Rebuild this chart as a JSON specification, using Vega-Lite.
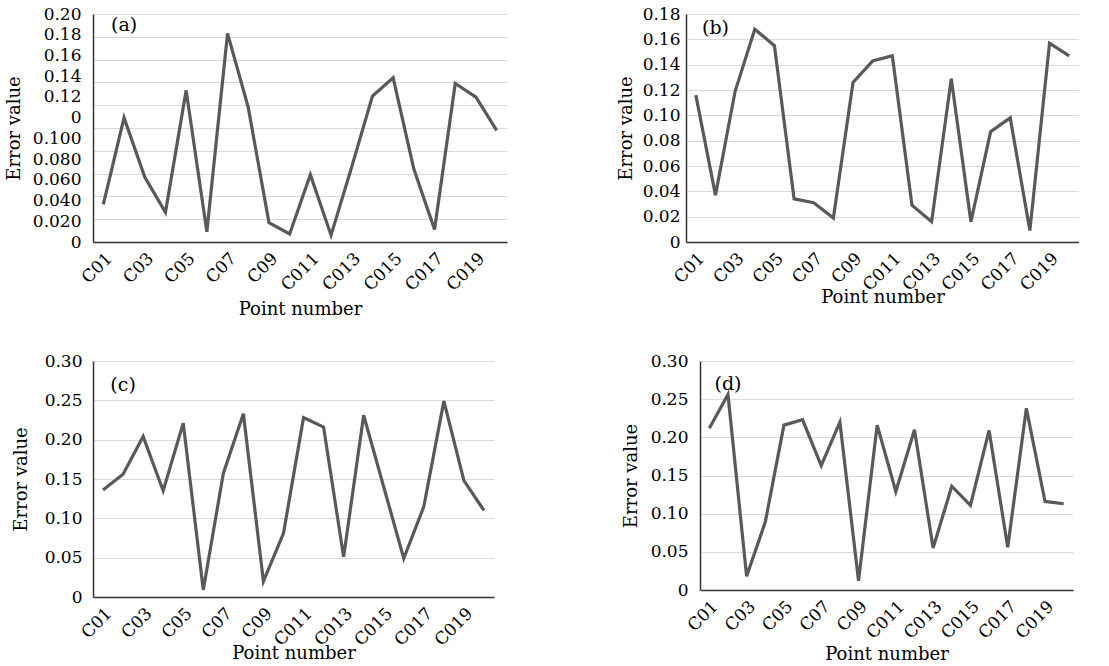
{
  "$schema": "https://vega.github.io/schema/vega-lite/v6.json",
  "background": "white",
  "padding": {"left": 5, "top": 5, "right": 0, "bottom": 0},
  "config": {
    "view": {"stroke": null},
    "axis": {
      "domainColor": "#333333", "domainWidth": 1.5, "ticks": false, "tickSize": 0,
      "labelFont": "DejaVu Serif", "labelFontSize": 17, "labelColor": "#000000",
      "titleFont": "DejaVu Serif", "titleFontSize": 18, "titleFontWeight": "normal", "titleColor": "#000000",
      "gridColor": "#d9d9d9", "gridWidth": 1
    },
    "axisX": {"grid": false, "labelAngle": -45, "labelPadding": 8}
  },
  "datasets": {
    "a": [
      {"point": "C01", "value": 0.033}, {"point": "C02", "value": 0.109}, {"point": "C03", "value": 0.057}, {"point": "C04", "value": 0.026},
      {"point": "C05", "value": 0.133}, {"point": "C06", "value": 0.009}, {"point": "C07", "value": 0.183}, {"point": "C08", "value": 0.118},
      {"point": "C09", "value": 0.017}, {"point": "C010", "value": 0.007}, {"point": "C011", "value": 0.059}, {"point": "C012", "value": 0.006},
      {"point": "C013", "value": 0.066}, {"point": "C014", "value": 0.128}, {"point": "C015", "value": 0.144}, {"point": "C016", "value": 0.064},
      {"point": "C017", "value": 0.011}, {"point": "C018", "value": 0.139}, {"point": "C019", "value": 0.127}, {"point": "C020", "value": 0.098}
    ],
    "b": [
      {"point": "C01", "value": 0.116}, {"point": "C02", "value": 0.037}, {"point": "C03", "value": 0.119}, {"point": "C04", "value": 0.168},
      {"point": "C05", "value": 0.155}, {"point": "C06", "value": 0.034}, {"point": "C07", "value": 0.031}, {"point": "C08", "value": 0.019},
      {"point": "C09", "value": 0.126}, {"point": "C010", "value": 0.143}, {"point": "C011", "value": 0.147}, {"point": "C012", "value": 0.029},
      {"point": "C013", "value": 0.016}, {"point": "C014", "value": 0.129}, {"point": "C015", "value": 0.016}, {"point": "C016", "value": 0.087},
      {"point": "C017", "value": 0.098}, {"point": "C018", "value": 0.009}, {"point": "C019", "value": 0.157}, {"point": "C020", "value": 0.147}
    ],
    "c": [
      {"point": "C01", "value": 0.136}, {"point": "C02", "value": 0.156}, {"point": "C03", "value": 0.204}, {"point": "C04", "value": 0.135},
      {"point": "C05", "value": 0.221}, {"point": "C06", "value": 0.009}, {"point": "C07", "value": 0.157}, {"point": "C08", "value": 0.233},
      {"point": "C09", "value": 0.020}, {"point": "C010", "value": 0.081}, {"point": "C011", "value": 0.228}, {"point": "C012", "value": 0.216},
      {"point": "C013", "value": 0.051}, {"point": "C014", "value": 0.231}, {"point": "C015", "value": 0.140}, {"point": "C016", "value": 0.049},
      {"point": "C017", "value": 0.115}, {"point": "C018", "value": 0.249}, {"point": "C019", "value": 0.148}, {"point": "C020", "value": 0.110}
    ],
    "d": [
      {"point": "C01", "value": 0.212}, {"point": "C02", "value": 0.256}, {"point": "C03", "value": 0.018}, {"point": "C04", "value": 0.089},
      {"point": "C05", "value": 0.216}, {"point": "C06", "value": 0.223}, {"point": "C07", "value": 0.163}, {"point": "C08", "value": 0.220},
      {"point": "C09", "value": 0.012}, {"point": "C010", "value": 0.216}, {"point": "C011", "value": 0.129}, {"point": "C012", "value": 0.210},
      {"point": "C013", "value": 0.055}, {"point": "C014", "value": 0.136}, {"point": "C015", "value": 0.111}, {"point": "C016", "value": 0.209},
      {"point": "C017", "value": 0.056}, {"point": "C018", "value": 0.238}, {"point": "C019", "value": 0.116}, {"point": "C020", "value": 0.113}
    ]
  },
  "spacing": 33,
  "vconcat": [
    {
      "spacing": 110,
      "hconcat": [
        {
          "width": 414, "height": 228,
          "layer": [
            {
              "data": {"name": "a"},
              "mark": {"type": "line", "color": "#595959", "strokeWidth": 3.2},
              "encoding": {
                "x": {"field": "point", "type": "ordinal",
                  "scale": {"domain": ["C01","C02","C03","C04","C05","C06","C07","C08","C09","C010","C011","C012","C013","C014","C015","C016","C017","C018","C019","C020"]},
                  "axis": {"values": ["C01","C03","C05","C07","C09","C011","C013","C015","C017","C019"], "title": "Point number", "titlePadding": 7}},
                "y": {"field": "value", "type": "quantitative",
                  "scale": {"domain": [0, 0.2], "nice": false},
                  "axis": {"orient": "left", "grid": false, "title": "Error value",
                    "values": [0, 0.0181818, 0.0363636, 0.0545455, 0.0727273, 0.0909091, 0.1090909, 0.1272727, 0.1454545, 0.1636364, 0.1818182, 0.2],
                    "labelExpr": "['0','0.020','0.040','0.060','0.080','0.100','0','0.12','0.14','0.16','0.18','0.20'][round(datum.value*55)]",
                    "labelPadding": 12, "minExtent": 61, "maxExtent": 61, "titlePadding": 9}}
              }
            },
            {
              "data": {"values": [{"tag": "(a)"}]},
              "mark": {"type": "text", "font": "DejaVu Serif", "fontSize": 19, "color": "#000000"},
              "encoding": {
                "x": {"datum": "C02", "type": "ordinal", "axis": null},
                "y": {"datum": 0.19, "type": "quantitative",
                  "axis": {"orient": "left", "grid": true, "labels": false, "domain": false, "ticks": false, "title": null,
                    "values": [0, 0.02, 0.04, 0.06, 0.08, 0.1, 0.12, 0.14, 0.16, 0.18, 0.2]}},
                "text": {"field": "tag"}
              }
            }
          ],
          "resolve": {"axis": {"x": "independent", "y": "independent"}}
        },
        {
          "width": 393, "height": 228,
          "layer": [
            {
              "data": {"name": "b"},
              "mark": {"type": "line", "color": "#595959", "strokeWidth": 3.2},
              "encoding": {
                "x": {"field": "point", "type": "ordinal",
                  "scale": {"domain": ["C01","C02","C03","C04","C05","C06","C07","C08","C09","C010","C011","C012","C013","C014","C015","C016","C017","C018","C019","C020"]},
                  "axis": {"values": ["C01","C03","C05","C07","C09","C011","C013","C015","C017","C019"], "title": "Point number", "titlePadding": -5}},
                "y": {"field": "value", "type": "quantitative",
                  "scale": {"domain": [0, 0.18], "nice": false},
                  "axis": {"grid": true, "title": "Error value",
                    "values": [0, 0.02, 0.04, 0.06, 0.08, 0.1, 0.12, 0.14, 0.16, 0.18],
                    "labelExpr": "datum.value == 0 ? '0' : format(datum.value, '.2f')",
                    "labelPadding": 6, "minExtent": 44, "maxExtent": 44, "titlePadding": 7}}
              }
            },
            {
              "data": {"values": [{"tag": "(b)"}]},
              "mark": {"type": "text", "font": "DejaVu Serif", "fontSize": 19, "color": "#000000"},
              "encoding": {
                "x": {"datum": "C02", "type": "ordinal", "axis": null},
                "y": {"datum": 0.169, "type": "quantitative", "axis": null},
                "text": {"field": "tag"}
              }
            }
          ],
          "resolve": {"axis": {"x": "independent", "y": "independent"}}
        }
      ]
    },
    {
      "spacing": 128,
      "hconcat": [
        {
          "width": 401, "height": 236,
          "layer": [
            {
              "data": {"name": "c"},
              "mark": {"type": "line", "color": "#595959", "strokeWidth": 3.2},
              "encoding": {
                "x": {"field": "point", "type": "ordinal",
                  "scale": {"domain": ["C01","C02","C03","C04","C05","C06","C07","C08","C09","C010","C011","C012","C013","C014","C015","C016","C017","C018","C019","C020"]},
                  "axis": {"values": ["C01","C03","C05","C07","C09","C011","C013","C015","C017","C019"], "title": "Point number", "titlePadding": -4}},
                "y": {"field": "value", "type": "quantitative",
                  "scale": {"domain": [0, 0.3], "nice": false},
                  "axis": {"grid": true, "title": "Error value",
                    "values": [0, 0.05, 0.1, 0.15, 0.2, 0.25, 0.3],
                    "labelExpr": "datum.value == 0 ? '0' : format(datum.value, '.2f')",
                    "labelPadding": 11, "minExtent": 51, "maxExtent": 51, "titlePadding": 12}}
              }
            },
            {
              "data": {"values": [{"tag": "(c)"}]},
              "mark": {"type": "text", "font": "DejaVu Serif", "fontSize": 19, "color": "#000000"},
              "encoding": {
                "x": {"datum": "C02", "type": "ordinal", "axis": null},
                "y": {"datum": 0.27, "type": "quantitative", "axis": null},
                "text": {"field": "tag"}
              }
            }
          ],
          "resolve": {"axis": {"x": "independent", "y": "independent"}}
        },
        {
          "width": 373, "height": 229,
          "layer": [
            {
              "data": {"name": "d"},
              "mark": {"type": "line", "color": "#595959", "strokeWidth": 3.2},
              "encoding": {
                "x": {"field": "point", "type": "ordinal",
                  "scale": {"domain": ["C01","C02","C03","C04","C05","C06","C07","C08","C09","C010","C011","C012","C013","C014","C015","C016","C017","C018","C019","C020"]},
                  "axis": {"values": ["C01","C03","C05","C07","C09","C011","C013","C015","C017","C019"], "title": "Point number"}},
                "y": {"field": "value", "type": "quantitative",
                  "scale": {"domain": [0, 0.3], "nice": false},
                  "axis": {"grid": true, "title": "Error value",
                    "values": [0, 0.05, 0.1, 0.15, 0.2, 0.25, 0.3],
                    "labelExpr": "datum.value == 0 ? '0' : format(datum.value, '.2f')",
                    "labelPadding": 12, "minExtent": 50, "maxExtent": 50, "titlePadding": 10}}
              }
            },
            {
              "data": {"values": [{"tag": "(d)"}]},
              "mark": {"type": "text", "font": "DejaVu Serif", "fontSize": 19, "color": "#000000"},
              "encoding": {
                "x": {"datum": "C02", "type": "ordinal", "axis": null},
                "y": {"datum": 0.27, "type": "quantitative", "axis": null},
                "text": {"field": "tag"}
              }
            }
          ],
          "resolve": {"axis": {"x": "independent", "y": "independent"}}
        }
      ]
    }
  ]
}
